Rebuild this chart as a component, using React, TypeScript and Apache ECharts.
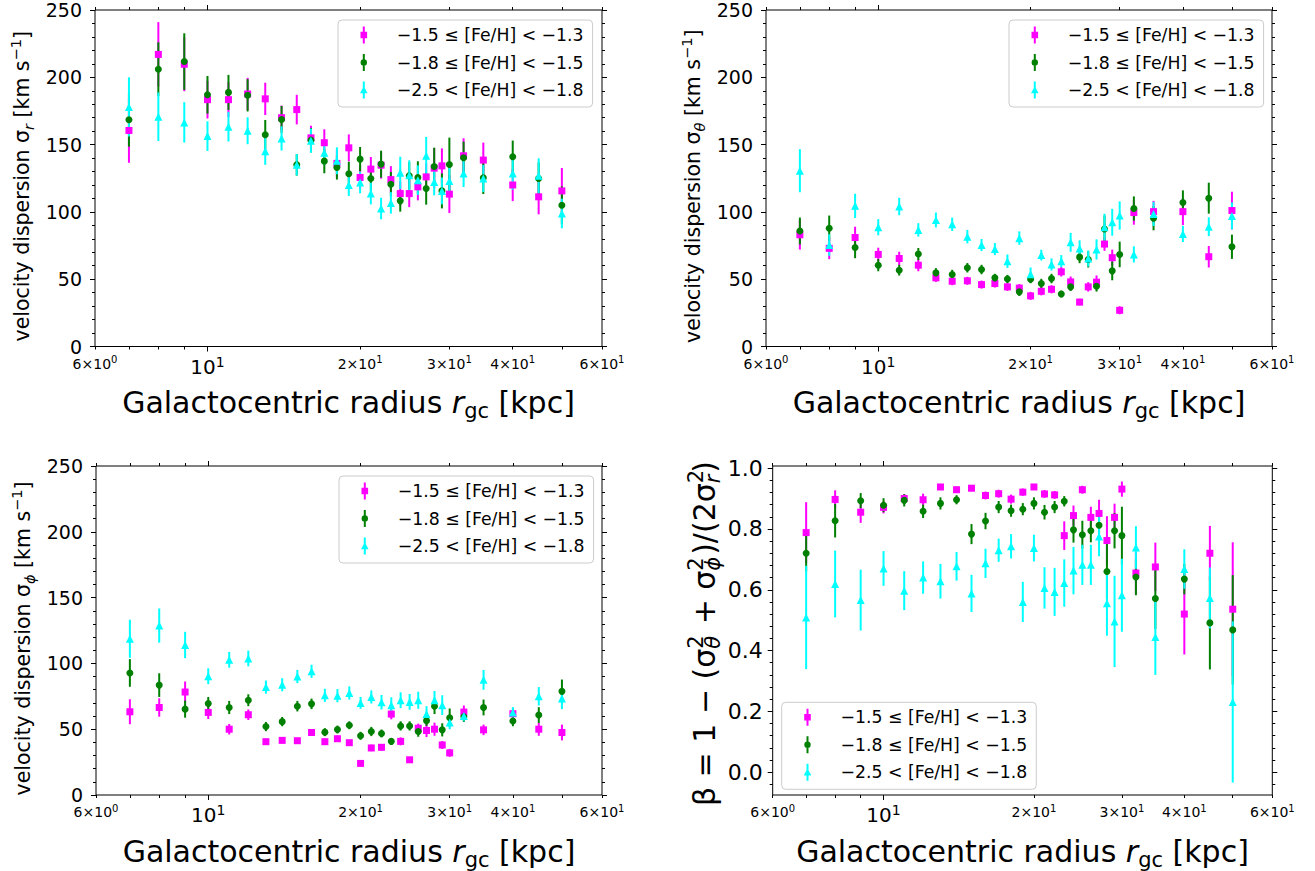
import React, { useEffect, useRef } from 'react';
import * as echarts from 'echarts';

const FONT = 'DejaVu Sans';

// Galactocentric radius bins [kpc]
const radiusKpc = [7, 8, 9, 10, 11, 12, 13, 14, 15, 16, 17, 18, 19, 20, 21, 22, 23, 24, 25, 26, 27, 28, 29, 30, 32, 35, 40, 45, 50];

const groupNames = ['−1.5 ≤ [Fe/H] < −1.3', '−1.8 ≤ [Fe/H] < −1.5', '−2.5 < [Fe/H] < −1.8'];
const groupColors = ['#ff00ff', '#008000', '#00ffff'];
const groupSymbols = ['rect', 'circle', 'triangle'];
const groupSymbolSizes = [7, 7, 8];

// Panel 1: sigma_r
const sigmaR_rich = [160.5, 217, 209.7, 183.4, 183.4, 187.6, 184, 170, 176, 155, 151.4, 136, 147.6, 125.6, 131.8, 134.7, 124, 113.6, 113.6, 118.6, 126, 132.5, 134.2, 113.2, 141.7, 138.5, 120, 111.2, 115.6];
const sigmaR_richErr = [24, 24, 20, 14, 13, 12, 12, 9, 11, 9, 10, 10, 10, 9, 9, 10, 10, 9, 10, 10, 10, 15, 13, 14, 13, 13, 12, 13, 17];
const sigmaR_mid = [168.5, 206, 211.7, 187, 188.8, 186.6, 157.3, 168.7, 135, 153.3, 137.7, 133, 128.3, 139.2, 124.8, 135.5, 120.6, 108.2, 126.8, 125.6, 117.4, 133.7, 115.6, 135.2, 140.2, 125.3, 141, 124.8, 105];
const sigmaR_midErr = [20, 20, 21, 14, 13, 12, 11, 10, 8, 9, 9, 9, 9, 9, 9, 10, 9, 8, 10, 12, 12, 14, 13, 20, 12, 12, 12, 12, 14];
const sigmaR_poor = [178, 170.7, 166.5, 156.3, 163.3, 160.3, 145, 154.6, 135, 152.9, 144, 138, 119.9, 121.8, 113.6, 102.5, 106.7, 129, 127.3, 123.6, 141.7, 122.3, 115.6, 123, 128.5, 124.8, 128.5, 126.8, 98.8];
const sigmaR_poorErr = [22, 18, 15, 11, 11, 10, 10, 9, 8, 9, 9, 10, 8, 8, 8, 8, 8, 12, 11, 11, 14, 10, 10, 11, 10, 10, 12, 13, 11];

// Panel 2: sigma_theta
const sigmaT_rich = [83, 72.9, 81, 68.4, 65.4, 60.4, 51, 48.5, 48.8, 46, 46.8, 44.3, 43.4, 37.6, 41, 42.5, 55.5, 48, 33, 44.3, 47.8, 76.1, 66, 26.9, 99.5, 100.2, 100.2, 66.7, 101];
const sigmaT_richErr = [11, 8, 8, 5, 5, 4.5, 3, 3, 3, 3, 3, 3, 3, 3, 3, 3, 3.5, 4, 2.5, 3.5, 5, 5, 6, 3, 9, 8, 10, 8, 14];
const sigmaT_mid = [85.8, 87.8, 73.6, 60.4, 56.7, 68.7, 54.7, 53.5, 58.5, 57.2, 51, 50.2, 40.6, 50, 46.8, 50.5, 39, 44.3, 66.4, 64.7, 44.8, 87.3, 56.2, 68.4, 102.5, 95.3, 107, 110.2, 74.1];
const sigmaT_midErr = [10, 9.5, 8, 4.5, 4, 4.5, 3.5, 3.5, 3.5, 3.5, 3, 3, 3, 3, 3.5, 3.5, 2.5, 3, 4.5, 6, 4, 10, 7, 9.5, 9, 9, 9, 11.5, 9];
const sigmaT_poor = [130.6, 75.4, 104.5, 88.6, 104, 86.6, 94, 90.8, 81.6, 75.4, 72.4, 63.4, 80.5, 53.7, 67.9, 61, 63.4, 77.4, 72.9, 65.4, 72.1, 88.6, 92.3, 97.3, 68.4, 98.5, 83.6, 89, 97];
const sigmaT_poorErr = [16, 8, 9, 6, 6.5, 5, 5.5, 5, 5, 4.5, 4.5, 5, 5, 5, 4, 4.5, 4.5, 7, 6, 6, 7.5, 10, 10, 10.5, 6, 9, 6, 7, 10];

// Panel 3: sigma_phi
const sigmaP_rich = [63.25, 66.5, 78.25, 62.75, 50, 61, 40.5, 41.5, 41.25, 47.5, 40.5, 42.75, 39.75, 24, 35.75, 36.25, 61.5, 40.75, 26.75, 50.75, 49, 50, 38, 32, 63, 49.5, 61.75, 50, 47.5];
const sigmaP_richErr = [9.5, 7, 8, 5, 4, 4, 2, 2, 2, 2.5, 2.5, 2.5, 2, 2, 2.5, 2.5, 4, 3, 2, 3.5, 5, 5, 3, 3, 5, 4, 4, 5, 6];
const sigmaP_mid = [92.75, 83.5, 65.25, 69.5, 66.5, 72, 52, 55.75, 67.5, 69.25, 47.75, 49.75, 53, 45, 48.25, 46.75, 40.75, 52.5, 52.5, 48.25, 56.5, 67.5, 49.5, 58.75, 59.5, 66.5, 56.25, 60.75, 78.75];
const sigmaP_midErr = [10.5, 9, 6.5, 5, 5, 4.5, 3.5, 3.5, 4, 4, 3, 3, 3, 3, 3.5, 3, 2.5, 3.5, 3.5, 4, 4, 6, 5, 7, 4, 6, 4, 6, 9];
const sigmaP_poor = [118.75, 128.75, 114, 90.25, 102.75, 103.75, 82, 83.75, 90, 94, 75.75, 75.5, 77.5, 70, 74.5, 70.5, 68.25, 72, 70.75, 72, 61.5, 72, 68.25, 55, 60, 87.5, 62.75, 75, 73.25];
const sigmaP_poorErr = [14.5, 13, 10, 6, 6, 6, 5, 5, 5, 5, 5, 5, 5, 4.5, 5, 5.5, 6, 6, 6, 6.5, 6, 7, 7.5, 5, 4, 7.5, 4, 7, 8];

// Panel 4: anisotropy beta
const beta_rich = [0.788, 0.897, 0.855, 0.871, 0.9, 0.896, 0.938, 0.929, 0.934, 0.91, 0.916, 0.898, 0.921, 0.938, 0.915, 0.912, 0.778, 0.844, 0.929, 0.838, 0.851, 0.762, 0.838, 0.931, 0.655, 0.675, 0.52, 0.72, 0.536];
const beta_richErr = [0.1, 0.03, 0.035, 0.02, 0.015, 0.02, 0.01, 0.01, 0.01, 0.013, 0.013, 0.015, 0.012, 0.01, 0.013, 0.013, 0.047, 0.033, 0.013, 0.035, 0.045, 0.08, 0.045, 0.025, 0.07, 0.08, 0.133, 0.09, 0.22];
const beta_mid = [0.72, 0.827, 0.893, 0.878, 0.894, 0.858, 0.884, 0.896, 0.783, 0.826, 0.872, 0.86, 0.865, 0.884, 0.855, 0.872, 0.891, 0.797, 0.781, 0.794, 0.812, 0.66, 0.794, 0.778, 0.642, 0.571, 0.635, 0.491, 0.468];
const beta_midErr = [0.06, 0.055, 0.025, 0.023, 0.02, 0.022, 0.02, 0.015, 0.033, 0.027, 0.02, 0.02, 0.02, 0.02, 0.024, 0.02, 0.017, 0.042, 0.046, 0.038, 0.03, 0.09, 0.058, 0.095, 0.06, 0.1, 0.05, 0.153, 0.18];
const beta_poor = [0.509, 0.619, 0.566, 0.67, 0.597, 0.64, 0.628, 0.677, 0.588, 0.687, 0.73, 0.743, 0.56, 0.737, 0.606, 0.593, 0.622, 0.663, 0.682, 0.682, 0.775, 0.556, 0.496, 0.582, 0.739, 0.445, 0.668, 0.573, 0.231];
const beta_poorErr = [0.17, 0.11, 0.1, 0.057, 0.064, 0.053, 0.057, 0.047, 0.061, 0.048, 0.038, 0.04, 0.066, 0.044, 0.068, 0.079, 0.078, 0.078, 0.066, 0.066, 0.065, 0.107, 0.15, 0.12, 0.07, 0.125, 0.065, 0.1, 0.265];

// Tick values / labels
const xLabelValues = [6, 10, 20, 30, 40, 60];
const xMajorTickValues = [10];
const xMinorTickValues = [6, 7, 8, 9, 20, 30, 40, 50, 60];
const betaMajorTicks = [0, 0.2, 0.4, 0.6, 0.8, 1.0];
const betaMinorTicks = [-0.04, 0.04, 0.08, 0.12, 0.16, 0.24, 0.28, 0.32, 0.36, 0.44, 0.48, 0.52, 0.56, 0.64, 0.68, 0.72, 0.76, 0.84, 0.88, 0.92, 0.96];

const panelValues = [
  [sigmaR_rich, sigmaR_mid, sigmaR_poor],
  [sigmaT_rich, sigmaT_mid, sigmaT_poor],
  [sigmaP_rich, sigmaP_mid, sigmaP_poor],
  [beta_rich, beta_mid, beta_poor],
];
const panelErrors = [
  [sigmaR_richErr, sigmaR_midErr, sigmaR_poorErr],
  [sigmaT_richErr, sigmaT_midErr, sigmaT_poorErr],
  [sigmaP_richErr, sigmaP_midErr, sigmaP_poorErr],
  [beta_richErr, beta_midErr, beta_poorErr],
];

const gridBoxes = [
  { left: 95, top: 10, width: 507, height: 336.5 },
  { left: 766, top: 10, width: 506, height: 336.5 },
  { left: 96, top: 466, width: 506, height: 330 },
  { left: 772.7, top: 466, width: 499.6, height: 329.7 },
];
const legendPos = [
  { left: 338, top: 20 },
  { left: 1009, top: 20 },
  { left: 339, top: 476 },
  { left: 781.7, top: 702.3 },
];

const legendIcons = [
  'path://M3,0L5,0L5,17L3,17Z M0.7,5.2L7.3,5.2L7.3,11.8L0.7,11.8Z',
  'path://M3,0L5,0L5,17L3,17Z M4,5.3A3.2,3.2,0,1,1,4,11.7A3.2,3.2,0,1,1,4,5.3Z',
  'path://M3,0L5,0L5,17L3,17Z M4,4.8L7.8,11.8L0.2,11.8Z',
];

const black = '#000';
const tickLine = { color: black, width: 1 };

const xTickRich = {
  mn: { fontFamily: FONT, fontSize: 14, color: black, lineHeight: 16, padding: [4, 0, 0, 0], verticalAlign: 'bottom' },
  mns: { fontFamily: FONT, fontSize: 10, color: black, lineHeight: 10, verticalAlign: 'top' },
  mj: { fontFamily: FONT, fontSize: 20, color: black, lineHeight: 22, padding: [4, 0, 0, 0], verticalAlign: 'bottom' },
  mjs: { fontFamily: FONT, fontSize: 14, color: black, lineHeight: 14, verticalAlign: 'top' },
};

const xTickFormatter = (v: number) => {
  const r = Math.round(Math.pow(10, v));
  if (r === 10) return '{mj|10}{mjs|1}';
  if (r < 10) return `{mn|${r}×10}{mns|0}`;
  return `{mn|${r / 10}×10}{mns|1}`;
};

const xTitle = '{t|Galactocentric radius }{it|r}{sb|gc}{t| [kpc]}';
const xTitleRich = {
  t: { fontFamily: FONT, fontSize: 30, color: black, lineHeight: 38, verticalAlign: 'middle' },
  it: { fontFamily: FONT, fontSize: 30, fontStyle: 'italic', color: black, lineHeight: 38, verticalAlign: 'middle' },
  sb: { fontFamily: FONT, fontSize: 21, color: black, lineHeight: 21, verticalAlign: 'bottom' },
};

const yTitleRich = {
  t: { fontFamily: FONT, fontSize: 20.5, color: black, lineHeight: 28, verticalAlign: 'middle' },
  sb: { fontFamily: FONT, fontSize: 14.5, fontStyle: 'italic', color: black, lineHeight: 14, verticalAlign: 'bottom' },
  sp: { fontFamily: FONT, fontSize: 14.5, color: black, lineHeight: 14, verticalAlign: 'top' },
};
const yTitles = [
  '{t|velocity dispersion σ}{sb|r}{t| [km s}{sp|−1}{t|]}',
  '{t|velocity dispersion σ}{sb|θ}{t| [km s}{sp|−1}{t|]}',
  '{t|velocity dispersion σ}{sb|ϕ}{t| [km s}{sp|−1}{t|]}',
];
const betaTitle = '{t|β = 1 − (σ}{sp|2}{sb|θ}{t| + σ}{sp|2}{sb|ϕ}{t|)/(2σ}{sp|2}{sb|r}{t|)}';
const betaTitleRich = {
  t: { fontFamily: FONT, fontSize: 30, color: black, lineHeight: 38, verticalAlign: 'middle' },
  sp: { fontFamily: FONT, fontSize: 21, color: black, lineHeight: 21, verticalAlign: 'top' },
  sb: { fontFamily: FONT, fontSize: 21, fontStyle: 'italic', color: black, lineHeight: 21, verticalAlign: 'bottom', padding: [0, 2, 0, -13.4] },
};

function buildOption() {
  const lg = Math.log10;
  const vmin = lg(6);
  const vmax = lg(60);
  const xAxes: any[] = [];
  const yAxes: any[] = [];
  const series: any[] = [];
  const dataYIndex: number[] = [];

  gridBoxes.forEach((_, g) => {
    const base = { gridIndex: g, splitLine: { show: false }, axisLine: { show: false, onZero: false } };
    xAxes.push({
      ...base, type: 'log', logBase: 10, min: 6, max: 60, position: 'bottom',
      axisTick: { show: false }, axisLabel: { show: false }, minorTick: { show: false },
      name: xTitle, nameLocation: 'middle', nameGap: 37, nameTextStyle: { rich: xTitleRich },
    });
    (['bottom', 'top'] as const).forEach((pos) => {
      xAxes.push({
        ...base, type: 'value', min: vmin, max: vmax, position: pos,
        axisTick: { show: true, length: 5, lineStyle: tickLine, customValues: xMajorTickValues.map(lg) },
        axisLabel: pos === 'bottom'
          ? { show: true, margin: 8, customValues: xLabelValues.map(lg), formatter: xTickFormatter, rich: xTickRich }
          : { show: false },
      });
      xAxes.push({
        ...base, type: 'value', min: vmin, max: vmax, position: pos,
        axisTick: { show: true, length: 3, lineStyle: tickLine, customValues: xMinorTickValues.map(lg) },
        axisLabel: { show: false },
      });
    });

    if (g < 3) {
      dataYIndex.push(yAxes.length);
      (['left', 'right'] as const).forEach((pos) => {
        yAxes.push({
          ...base, type: 'value', min: 0, max: 250, interval: 50, position: pos,
          axisTick: { show: true, length: 5, lineStyle: tickLine },
          minorTick: { show: true, splitNumber: 5, length: 3, lineStyle: tickLine },
          minorSplitLine: { show: false },
          axisLabel: pos === 'left'
            ? { show: true, fontFamily: FONT, fontSize: 19, color: black, margin: 13 }
            : { show: false },
          ...(pos === 'left'
            ? { name: yTitles[g], nameLocation: 'middle', nameGap: 59, nameTextStyle: { rich: yTitleRich, padding: [0, 16, 0, 0] } }
            : {}),
        });
      });
    } else {
      dataYIndex.push(yAxes.length);
      (['left', 'right'] as const).forEach((pos) => {
        yAxes.push({
          ...base, type: 'value', min: -0.075, max: 1.007, position: pos,
          axisTick: { show: true, length: 5, lineStyle: tickLine, customValues: betaMajorTicks },
          axisLabel: pos === 'left'
            ? { show: true, fontFamily: FONT, fontSize: 22, color: black, margin: 10, customValues: betaMajorTicks, formatter: (v: number) => v.toFixed(1) }
            : { show: false },
          ...(pos === 'left'
            ? { name: betaTitle, nameLocation: 'middle', nameGap: 46, nameTextStyle: { rich: betaTitleRich, padding: [0, 6, 0, 0] } }
            : {}),
        });
        yAxes.push({
          ...base, type: 'value', min: -0.075, max: 1.007, position: pos,
          axisTick: { show: true, length: 3, lineStyle: tickLine, customValues: betaMinorTicks },
          axisLabel: { show: false },
        });
      });
    }

    const xi = g * 5;
    const yi = dataYIndex[g];
    for (let k = 0; k < 3; k++) {
      const vals = panelValues[g][k];
      const errs = panelErrors[g][k];
      const color = groupColors[k];
      series.push({
        type: 'custom',
        name: `err-${g}-${k}`,
        xAxisIndex: xi,
        yAxisIndex: yi,
        data: radiusKpc.map((r, i) => [r, vals[i], errs[i]]),
        encode: { x: 0, y: 1 },
        silent: true,
        renderItem: (_p: any, api: any) => {
          const x = api.value(0);
          const y = api.value(1);
          const e = api.value(2);
          const a = api.coord([x, y - e]);
          const b = api.coord([x, y + e]);
          return {
            type: 'line',
            shape: { x1: a[0], y1: a[1], x2: b[0], y2: b[1] },
            style: { stroke: color, lineWidth: 2 },
          };
        },
      });
      series.push({
        type: 'scatter',
        name: groupNames[k],
        xAxisIndex: xi,
        yAxisIndex: yi,
        data: radiusKpc.map((r, i) => [r, vals[i]]),
        symbol: groupSymbols[k],
        symbolSize: groupSymbolSizes[k],
        itemStyle: { color, opacity: 1 },
        silent: true,
      });
    }
  });

  return {
    animation: false,
    backgroundColor: '#ffffff',
    grid: gridBoxes.map((b) => ({ ...b, show: true, borderColor: black, borderWidth: 1, backgroundColor: 'transparent', containLabel: false })),
    xAxis: xAxes,
    yAxis: yAxes,
    legend: legendPos.map((p) => ({
      ...p,
      orient: 'vertical',
      itemWidth: 8,
      itemHeight: 17,
      itemGap: 7.5,
      selectedMode: false,
      data: groupNames.map((n, k) => ({ name: n, icon: legendIcons[k] })),
      textStyle: { fontFamily: FONT, fontSize: 17.3, color: black, lineHeight: 20, padding: [0, 0, 0, 24] },
      backgroundColor: 'rgba(255,255,255,0.8)',
      borderColor: '#cccccc',
      borderWidth: 1,
      borderRadius: 4,
      padding: [5, 9, 7, 22],
    })),
    series,
  };
}

export default function App() {
  const ref = useRef<HTMLDivElement>(null);
  useEffect(() => {
    if (!ref.current) return;
    const chart = echarts.init(ref.current, undefined, { renderer: 'svg' });
    chart.setOption(buildOption() as any);
    return () => chart.dispose();
  }, []);
  return (
    <div
      ref={ref}
      style={{ position: 'fixed', left: 0, top: 0, width: 1315, height: 871, background: '#fff' }}
    />
  );
}
